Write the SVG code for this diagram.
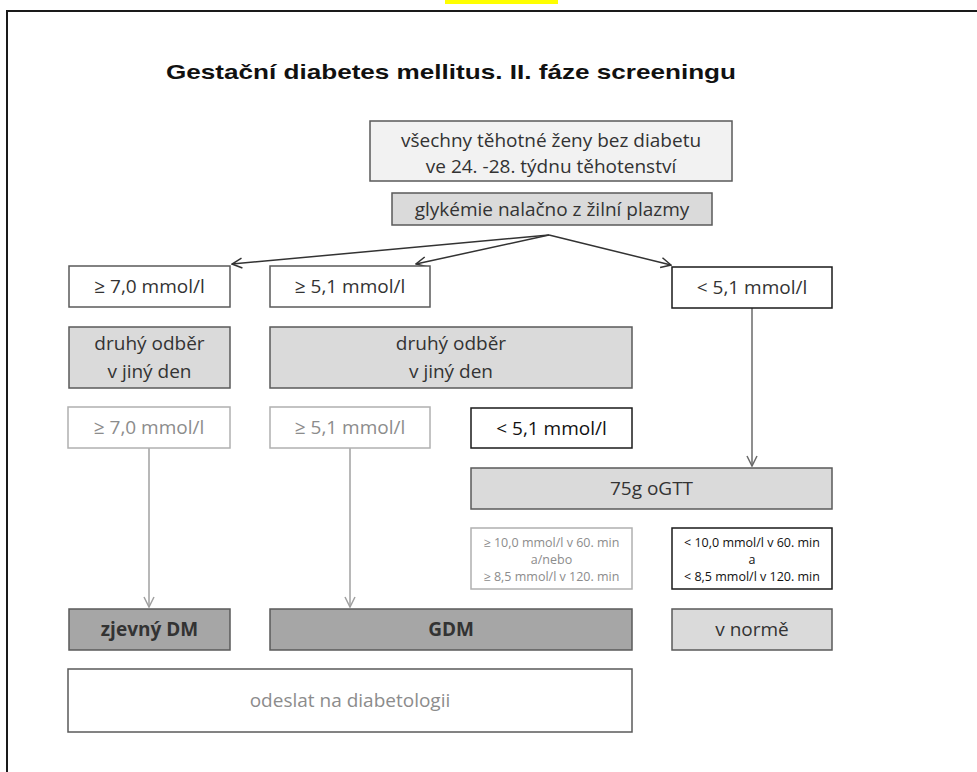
<svg xmlns="http://www.w3.org/2000/svg" width="977" height="772" viewBox="0 0 977 772">
  <style>
    .t { font-family: "Open Sans", "Noto Sans", "DejaVu Sans", sans-serif; font-size: 19px; fill: #333; text-anchor: middle; }
    .s { font-size: 12.5px; }
    .b { font-weight: bold; }
    .muted { fill: #8c8c8c; }
    .dark { fill: #111; }
    .box { stroke: #5a5a5a; stroke-width: 1.5; }
    .light { fill: #f2f2f2; }
    .mid { fill: #dadada; }
    .deep { fill: #a6a6a6; }
    .white { fill: #fff; }
    .faint { stroke: #b0b0b0; }
    .black { stroke: #1a1a1a; }
    .conn { fill: none; stroke-width: 1.5; }
  </style>
  <defs>
    <marker id="headDark" viewBox="0 0 12 12" refX="11" refY="6" markerWidth="12" markerHeight="12" markerUnits="userSpaceOnUse" orient="auto">
      <path d="M1,1 L11,6 L1,11" fill="none" stroke="#333" stroke-width="1.5"/>
    </marker>
    <marker id="headMid" viewBox="0 0 12 12" refX="11" refY="6" markerWidth="12" markerHeight="12" markerUnits="userSpaceOnUse" orient="auto">
      <path d="M1,1 L11,6 L1,11" fill="none" stroke="#6a6a6a" stroke-width="1.5"/>
    </marker>
    <marker id="headLight" viewBox="0 0 12 12" refX="11" refY="6" markerWidth="12" markerHeight="12" markerUnits="userSpaceOnUse" orient="auto">
      <path d="M1,1 L11,6 L1,11" fill="none" stroke="#a0a0a0" stroke-width="1.5"/>
    </marker>
  </defs>

  <rect width="977" height="772" fill="#fff"/>
  <!-- highlight tab and page frame -->
  <rect x="445" y="0" width="113" height="4" fill="#ffff00"/>
  <path d="M7,772 V11 H977" fill="none" stroke="#1a1a1a" stroke-width="2"/>

  <text x="451" y="79" font-family="'Liberation Sans', Arial, sans-serif" font-weight="bold" font-size="21" fill="#111" text-anchor="middle" textLength="570" lengthAdjust="spacingAndGlyphs">Gestační diabetes mellitus. II. fáze screeningu</text>

  <g id="connectors">
    <path class="conn" d="M549,235 L232,264" stroke="#333" marker-end="url(#headDark)"/>
    <path class="conn" d="M549,235 L416,264" stroke="#333" marker-end="url(#headDark)"/>
    <path class="conn" d="M549,235 L671,265" stroke="#333" marker-end="url(#headDark)"/>
    <path class="conn" d="M752,308 V466" stroke="#6a6a6a" marker-end="url(#headMid)"/>
    <path class="conn" d="M149,448 V607" stroke="#a0a0a0" marker-end="url(#headLight)"/>
    <path class="conn" d="M350,448 V607" stroke="#a0a0a0" marker-end="url(#headLight)"/>
  </g>

  <g id="all-women">
    <rect class="box light" x="370" y="121" width="362" height="60"/>
    <text class="t" x="551" y="147">všechny těhotné ženy bez diabetu</text>
    <text class="t" x="551" y="173">ve 24. -28. týdnu těhotenství</text>
  </g>

  <g id="fasting-glucose">
    <rect class="box mid" x="392" y="193" width="320" height="32"/>
    <text class="t" x="552" y="216">glykémie nalačno z žilní plazmy</text>
  </g>

  <g id="ge70-first">
    <rect class="box white" x="69" y="266" width="161" height="41"/>
    <text class="t" x="149.5" y="293">≥ 7,0 mmol/l</text>
  </g>

  <g id="ge51-first">
    <rect class="box white" x="270" y="266" width="160" height="41"/>
    <text class="t" x="350" y="293">≥ 5,1 mmol/l</text>
  </g>

  <g id="lt51-first">
    <rect class="box white black" x="672" y="267" width="160" height="41"/>
    <text class="t" x="752" y="294">&lt; 5,1 mmol/l</text>
  </g>

  <g id="retest-left">
    <rect class="box mid" x="69" y="327" width="161" height="61"/>
    <text class="t" x="149.5" y="350">druhý odběr</text>
    <text class="t" x="149.5" y="378">v jiný den</text>
  </g>

  <g id="retest-right">
    <rect class="box mid" x="270" y="327" width="362" height="61"/>
    <text class="t" x="451" y="350">druhý odběr</text>
    <text class="t" x="451" y="378">v jiný den</text>
  </g>

  <g id="ge70-second">
    <rect class="box white faint" x="68" y="407" width="162" height="41"/>
    <text class="t muted" x="149" y="434">≥ 7,0 mmol/l</text>
  </g>

  <g id="ge51-second">
    <rect class="box white faint" x="270" y="407" width="160" height="41"/>
    <text class="t muted" x="350" y="434">≥ 5,1 mmol/l</text>
  </g>

  <g id="lt51-second">
    <rect class="box white black" x="471" y="408" width="161" height="40"/>
    <text class="t dark" x="551.5" y="435">&lt; 5,1 mmol/l</text>
  </g>

  <g id="ogtt">
    <rect class="box mid" x="471" y="468" width="361" height="41"/>
    <text class="t" x="651.5" y="495">75g oGTT</text>
  </g>

  <g id="ogtt-positive">
    <rect class="box white faint" x="471" y="528" width="161" height="61"/>
    <text class="t s muted" x="551.5" y="546.5">≥ 10,0 mmol/l v 60. min</text>
    <text class="t s muted" x="551.5" y="563.5">a/nebo</text>
    <text class="t s muted" x="551.5" y="581">≥ 8,5 mmol/l v 120. min</text>
  </g>

  <g id="ogtt-negative">
    <rect class="box white black" x="672" y="528" width="160" height="61"/>
    <text class="t s dark" x="752" y="546.5">&lt; 10,0 mmol/l v 60. min</text>
    <text class="t s dark" x="752" y="563.5">a</text>
    <text class="t s dark" x="752" y="581">&lt; 8,5 mmol/l v 120. min</text>
  </g>

  <g id="overt-dm">
    <rect class="box deep" x="69" y="609" width="161" height="41"/>
    <text class="t b" x="149.5" y="636">zjevný DM</text>
  </g>

  <g id="gdm">
    <rect class="box deep" x="270" y="609" width="362" height="41"/>
    <text class="t b" x="451" y="636">GDM</text>
  </g>

  <g id="normal">
    <rect class="box mid" x="672" y="609" width="160" height="41"/>
    <text class="t" x="752" y="636">v normě</text>
  </g>

  <g id="refer">
    <rect class="box white" x="68" y="669" width="564" height="63" stroke="#8a8a8a"/>
    <text class="t muted" x="350" y="707">odeslat na diabetologii</text>
  </g>
</svg>
